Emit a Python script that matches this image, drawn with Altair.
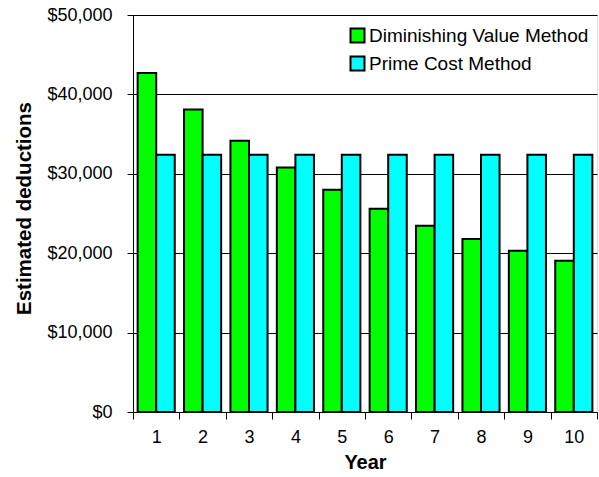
import altair as alt
import pandas as pd

years = ["1", "2", "3", "4", "5", "6", "7", "8", "9", "10"]
diminishing = [42700, 38100, 34150, 30800, 28000, 25600, 23450, 21800, 20300, 19050]
prime_cost = [32400, 32400, 32400, 32400, 32400, 32400, 32400, 32400, 32400, 32400]
methods = ["Diminishing Value Method", "Prime Cost Method"]
colors = ["#00FF00", "#00FFFF"]

rows = []
for y, d, p in zip(years, diminishing, prime_cost):
    rows.append({"Year": y, "Method": methods[0], "Value": d})
    rows.append({"Year": y, "Method": methods[1], "Value": p})
df = pd.DataFrame(rows)

FONT = "Liberation Sans"

chart = alt.Chart(df).mark_bar(stroke="black", strokeWidth=2).encode(
    x=alt.X("Year:O", sort=years,
            scale=alt.Scale(paddingInner=0, paddingOuter=0),
            axis=alt.Axis(title="Year", labelAngle=0, tickBand="extent",
                          tickSize=7, labelPadding=9, labelFontSize=18,
                          titleFontSize=20, titleFontWeight="bold",
                          titlePadding=6, domainColor="black", tickColor="black",
                          labelColor="black", titleColor="black", grid=False)),
    xOffset=alt.XOffset("Method:N", sort=methods,
                        scale=alt.Scale(paddingInner=0, paddingOuter=0.25)),
    y=alt.Y("Value:Q",
            scale=alt.Scale(domain=[0, 50000], nice=False),
            axis=alt.Axis(title="Estimated deductions", format="$,.0f",
                          values=[0, 10000, 20000, 30000, 40000, 50000],
                          tickSize=6, labelPadding=15, labelFontSize=18,
                          titleFontSize=20.5, titleFontWeight="bold",
                          titleAngle=270, titleX=-103, titleY=193,
                          titleAlign="center", titleBaseline="alphabetic",
                          grid=True, gridColor="black", gridWidth=1, gridOpacity=1,
                          domainColor="black", tickColor="black",
                          labelColor="black", titleColor="black")),
    color=alt.Color("Method:N", sort=methods,
                    scale=alt.Scale(domain=methods, range=colors),
                    legend=alt.Legend(title=None, orient="none",
                                      legendX=215, legendY=11,
                                      symbolType="square", symbolSize=196,
                                      symbolStrokeColor="black", symbolStrokeWidth=2,
                                      labelFontSize=19, labelColor="black",
                                      labelLimit=0, labelOffset=2, rowPadding=5,
                                      padding=0)),
).properties(
    width=464,
    height=397,
    autosize=alt.AutoSizeParams(type="none"),
    padding={"left": 133, "top": 15, "right": 2, "bottom": 65},
    background="white",
).configure_view(
    fill="#E0E0E0", stroke=None
).configure(
    font=FONT
)

chart.save("out.html", embed_options={"renderer": "svg", "actions": False})
